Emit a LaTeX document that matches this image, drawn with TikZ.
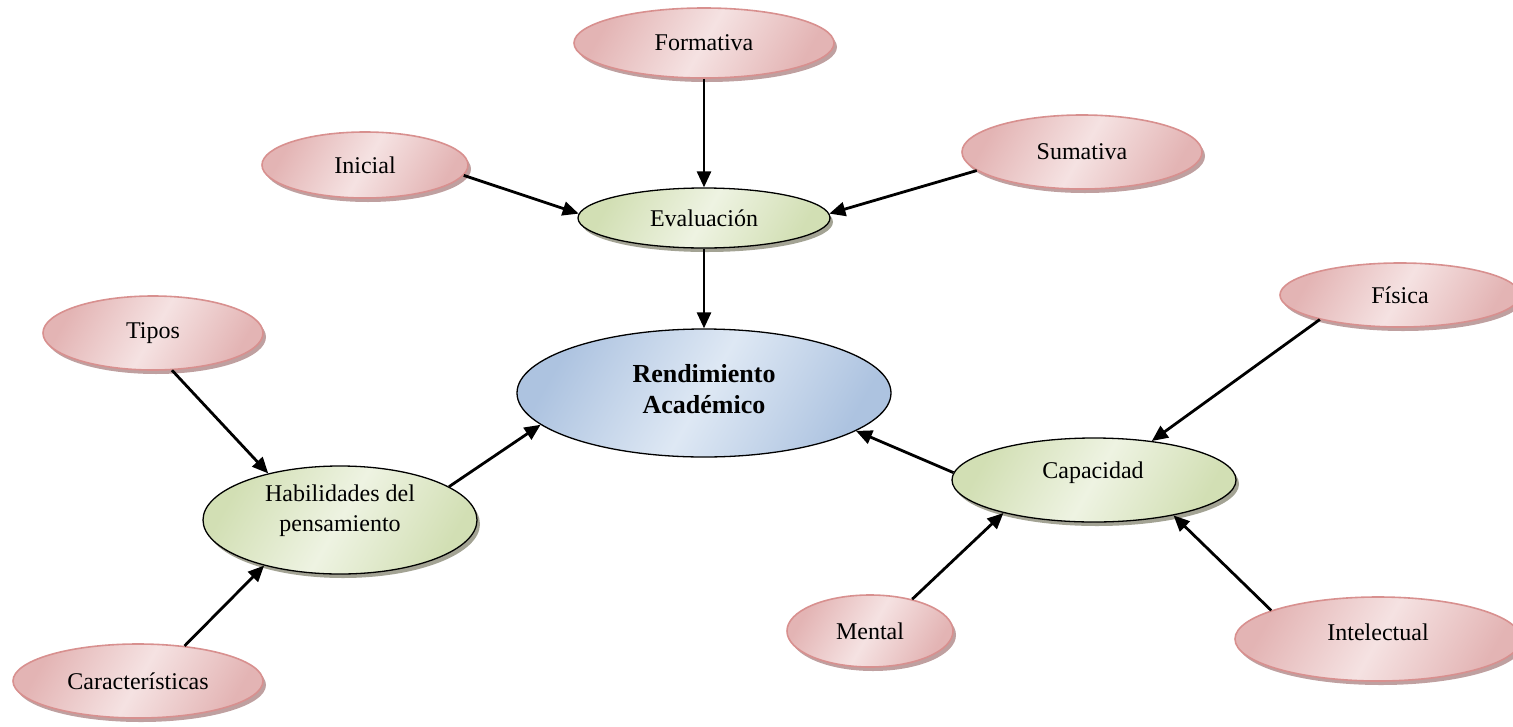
\documentclass[tikz,border=0pt]{standalone}
\usepackage{fontspec}
\setmainfont{Liberation Serif}
\usetikzlibrary{shapes.geometric,shadows,arrows.meta}
\definecolor{pinkL}{HTML}{F5E2E2}
\definecolor{pinkD}{HTML}{E3B4B4}
\definecolor{pinkB}{HTML}{D8908F}
\definecolor{pinkS}{HTML}{BFA0A0}
\definecolor{greenL}{HTML}{EEF3E2}
\definecolor{greenD}{HTML}{D2DFB4}
\definecolor{greenS}{HTML}{A3A394}
\definecolor{blueL}{HTML}{DEE8F4}
\definecolor{blueD}{HTML}{ADC3E0}
\begin{document}
\begin{tikzpicture}[x=1pt,y=-1pt,
  base/.style={ellipse, inner sep=0pt, font=\fontsize{24}{30}\selectfont, align=center},
  pinknode/.style={base, draw=pinkB, line width=1.6pt,
    left color=pinkD, right color=pinkD, middle color=pinkL, shading angle=60,
    drop shadow={shadow xshift=3pt, shadow yshift=-4pt, fill=pinkS, opacity=1}},
  greennode/.style={base, draw=black, line width=1.3pt,
    left color=greenD, right color=greenD, middle color=greenL, shading angle=60,
    drop shadow={shadow xshift=3pt, shadow yshift=-4pt, fill=greenS, opacity=1}},
  bluenode/.style={base, draw=black, line width=1.3pt,
    left color=blueD, right color=blueD, middle color=blueL, shading angle=60},
  txt/.style={inner sep=0pt, font=\fontsize{24}{30}\selectfont, align=center},
  boldtxt/.style={inner sep=0pt, font=\fontsize{26}{31}\selectfont\bfseries, align=center},
  arr/.style={line width=2.8pt, -{Triangle[length=16pt,width=14pt]}}
]
\useasboundingbox (0,0) rectangle (1513,726);
\clip (0,0) rectangle (1513,726);

\node[pinknode, minimum width=260pt, minimum height=70pt] (form) at (704,43) {Formativa};
\node[pinknode, minimum width=206pt, minimum height=66pt] (ini) at (365,165) {Inicial};
\node[pinknode, minimum width=240pt, minimum height=74pt] (sum) at (1082,152) {Sumativa};
\node[greennode, minimum width=252pt, minimum height=60pt] (eval) at (704,218) {Evaluación};
\node[bluenode, minimum width=374pt, minimum height=128pt] (rend) at (704,393) {};
\node[boldtxt] (rendt) at (704,389) {Rendimiento\\Académico};
\node[pinknode, minimum width=220pt, minimum height=74pt] (tipos) at (153,333) {Tipos};
\node[greennode, minimum width=274pt, minimum height=108pt] (hab) at (340,520) {};
\node[txt] (habt) at (340,511) {Habilidades del\\pensamiento};
\node[pinknode, minimum width=250pt, minimum height=74pt] (car) at (138,681) {Características};
\node[pinknode, minimum width=240pt, minimum height=64pt] (fis) at (1400,295) {Física};
\node[greennode, minimum width=284pt, minimum height=84pt] (cap) at (1094,480) {};
\node[txt] (capt) at (1093,473) {Capacidad};
\node[pinknode, minimum width=166pt, minimum height=72pt] (men) at (870,631) {Mental};
\node[pinknode, minimum width=286pt, minimum height=84pt] (int) at (1378,639) {};
\node[txt] (intt) at (1378,632) {Intelectual};

\draw[arr] (form.south) -- (eval.north);
\draw[arr] (ini.-6) -- (eval.178);
\draw[arr] (sum.190) -- (eval.2);
\draw[arr] (eval.south) -- (rend.north);
\draw[arr] (tipos.-63) -- (hab.147);
\draw[arr] (car.37) -- (hab.-149);
\draw[arr] (hab.17) -- (rend.191);
\draw[arr] (fis.197) -- (cap.34);
\draw[arr] (cap.177) -- (rend.-14);
\draw[arr] (men.37) -- (cap.-160);
\draw[arr] (int.165) -- (cap.-24);
\end{tikzpicture}
\end{document}
